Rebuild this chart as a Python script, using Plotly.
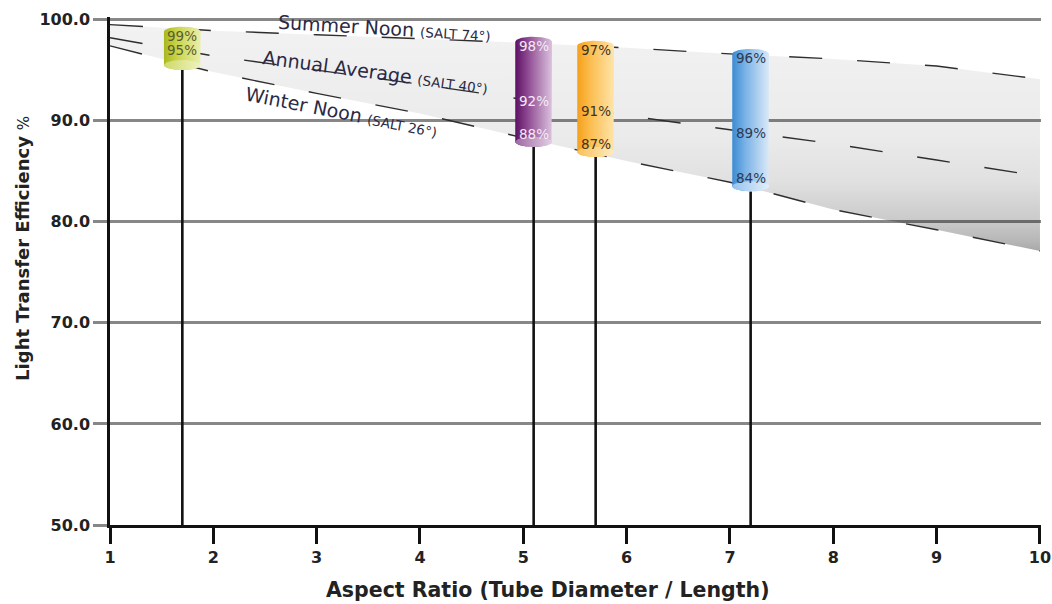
import numpy as np
import plotly.graph_objects as go

# ---------------- data ----------------
aspect = [1, 2, 3, 4, 5, 6, 7, 8, 9, 10]
summer = [99.5, 98.9, 98.5, 98.1, 97.7, 97.2, 96.6, 96.1, 95.4, 94.1]
annual = [98.2, 96.4, 95.0, 93.6, 92.1, 90.5, 89.1, 87.7, 86.1, 84.5]
winter = [97.4, 94.8, 92.7, 90.7, 88.3, 86.0, 83.9, 81.2, 79.2, 77.1]

curve_names = ["Summer Noon", "Annual Average", "Winter Noon"]
curve_salt = ["(SALT 74°)", "(SALT 40°)", "(SALT 26°)"]

tube_x = [1.7, 5.1, 5.7, 7.2]
tube_top = [99.3, 98.3, 97.9, 97.1]
tube_bottom = [95.0, 87.4, 86.4, 83.0]
tube_labels = [["99%", "95%"], ["98%", "92%", "88%"], ["97%", "91%", "87%"], ["96%", "89%", "84%"]]

x_ticks = [1, 2, 3, 4, 5, 6, 7, 8, 9, 10]
y_ticks = [50, 60, 70, 80, 90, 100]

# ---------------- styles ----------------
FONT = "DejaVu Sans"
tube_colors = [
    ("#a9b81c", "#c9d44a", "#eaefad"),
    ("#5e0f62", "#8f4c93", "#dcc2de"),
    ("#f5a01a", "#fbbd4f", "#ffe4a9"),
    ("#3b8bd4", "#79b2e6", "#dae9f7"),
]
cap_colors = [
    ("#cfd968", "#eef3c0"),
    ("#9e68a2", "#e4cfe6"),
    ("#f8c15a", "#ffebbf"),
    ("#94c3ee", "#e3effa"),
]
label_colors = ["#5a5d2e", "#f6eaf6", "#3e3322", "#2c3a52"]
HALF_W = 0.178   # x data units
CAP_H = 0.5      # y data units

fig = go.Figure()

# shaded band between summer and winter curves
band_x = aspect + aspect[::-1]
band_y = summer + winter[::-1]
fig.add_trace(go.Scatter(
    x=band_x, y=band_y, mode="lines", fill="toself",
    line=dict(width=0, color="rgba(0,0,0,0)"),
    fillgradient=dict(
        type="vertical", start=76.8, stop=100,
        colorscale=[[0, "rgba(0,0,0,0.36)"], [0.05, "rgba(0,0,0,0.29)"],
                    [0.14, "rgba(0,0,0,0.21)"], [0.31, "rgba(0,0,0,0.12)"],
                    [0.5, "rgba(0,0,0,0.08)"], [1, "rgba(0,0,0,0.05)"]]),
    hoverinfo="skip", showlegend=False))

# dashed curves
for ys in (summer, annual, winter):
    fig.add_trace(go.Scatter(
        x=aspect, y=ys, mode="lines",
        line=dict(color="#2e2e2e", width=1.4, dash="33px,35px"),
        hoverinfo="skip", showlegend=False))

# stems
for xv, yb in zip(tube_x, tube_bottom):
    fig.add_trace(go.Scatter(
        x=[xv, xv], y=[50, yb], mode="lines",
        line=dict(color="#111111", width=2.6),
        hoverinfo="skip", showlegend=False))

# cylinders
theta_up = np.linspace(np.pi, 0, 40)
theta_dn = np.linspace(0, -np.pi, 40)
theta_full = np.linspace(0, 2 * np.pi, 80)
for i, (xv, yt, yb) in enumerate(zip(tube_x, tube_top, tube_bottom)):
    yc_t = yt - CAP_H
    yc_b = yb + CAP_H
    px = np.concatenate([xv + HALF_W * np.cos(theta_up), xv + HALF_W * np.cos(theta_dn)])
    py = np.concatenate([yc_t + CAP_H * np.sin(theta_up), yc_b + CAP_H * np.sin(theta_dn)])
    c0, c1, c2 = tube_colors[i]
    fig.add_trace(go.Scatter(
        x=np.append(px, px[0]), y=np.append(py, py[0]), mode="lines", fill="toself",
        line=dict(width=0, color="rgba(0,0,0,0)"),
        fillgradient=dict(type="horizontal", start=xv - HALF_W, stop=xv + HALF_W,
                          colorscale=[[0, c0], [0.35, c1], [1, c2]]),
        hoverinfo="skip", showlegend=False))
    k0, k1 = cap_colors[i]
    fig.add_trace(go.Scatter(
        x=xv + HALF_W * np.cos(theta_full), y=yc_b + CAP_H * np.sin(theta_full),
        mode="lines", fill="toself", line=dict(width=0, color="rgba(0,0,0,0)"),
        fillgradient=dict(type="horizontal", start=xv - HALF_W, stop=xv + HALF_W,
                          colorscale=[[0, k0], [1, k1]]),
        hoverinfo="skip", showlegend=False))

annotations = []
# labels inside cylinders, placed at curve values (clamped inside the tube)
curves = [summer, annual, winter]
for i, (xv, yt, yb) in enumerate(zip(tube_x, tube_top, tube_bottom)):
    for j, txt in enumerate(tube_labels[i]):
        yv = float(np.interp(xv, aspect, curves[j]))
        yv = min(max(yv, yb + 1.3), yt - 0.9)
        annotations.append(dict(
            x=xv, y=yv, xref="x", yref="y", text=txt, showarrow=False,
            font=dict(family=FONT, size=13.5, color=label_colors[i]),
            xanchor="center", yanchor="middle"))

# curve name labels
name_pos = [(3.66, 99.15, 3.3), (3.57, 94.8, 7.6), (3.24, 90.85, 11.0)]
for name, salt, (lx, ly, ang) in zip(curve_names, curve_salt, name_pos):
    annotations.append(dict(
        x=lx, y=ly, xref="x", yref="y", showarrow=False, textangle=ang,
        text=f"{name} <span style='font-size:13.5px'>{salt}</span>",
        font=dict(family=FONT, size=19, color="#2a2a46"),
        xanchor="center", yanchor="middle"))

# axis titles
annotations.append(dict(
    x=0.47, y=-0.128, xref="paper", yref="paper", showarrow=False,
    text="Aspect Ratio (Tube Diameter / Length)",
    font=dict(family=FONT, size=20.5, color="#222222", weight="bold"),
    xanchor="center", yanchor="middle"))
annotations.append(dict(
    x=-0.0948, y=0.545, xref="paper", yref="paper", showarrow=False, textangle=-90,
    text="<b>Light Transfer Efficiency</b> <span style='font-size:15px'>%</span>",
    font=dict(family=FONT, size=18, color="#222222"),
    xanchor="center", yanchor="middle"))

fig.update_layout(
    width=1052, height=604,
    margin=dict(l=110, r=11, t=17, b=79, autoexpand=False),
    paper_bgcolor="white", plot_bgcolor="white",
    showlegend=False,
    annotations=annotations,
    xaxis=dict(
        range=[1, 10.01], tickvals=x_ticks, ticktext=[str(v) for v in x_ticks],
        showgrid=False, zeroline=False, automargin=False,
        showline=True, linecolor="#111111", linewidth=3,
        ticks="outside", ticklen=16, tickwidth=3, tickcolor="#111111",
        ticklabeloverflow="allow",
        tickfont=dict(family=FONT, size=16, color="#222222", weight="bold"),
        fixedrange=True),
    yaxis=dict(
        range=[50, 100.25], tickvals=y_ticks, ticktext=[f"{v:.1f}" for v in y_ticks],
        showgrid=True, gridcolor="#878787", gridwidth=2.6, zeroline=False,
        automargin=False,
        showline=True, linecolor="#111111", linewidth=2.5,
        ticks="outside", ticklen=14, tickwidth=2.5, tickcolor="#878787",
        tickfont=dict(family=FONT, size=16, color="#222222", weight="bold"),
        fixedrange=True),
)

fig.write_html(
    "out.html",
    config={"displayModeBar": False},
    post_script="document.body.style.margin='0';document.body.style.overflow='hidden';",
)
